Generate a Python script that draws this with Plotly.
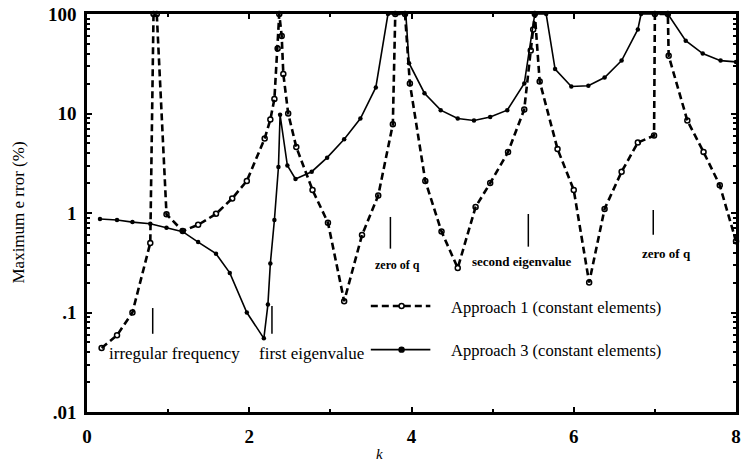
import plotly.graph_objects as go

# ---------------- data ----------------
k_app1 = [0.18, 0.37, 0.56, 0.78, 0.82, 0.86, 0.98, 1.18, 1.37, 1.59, 1.79, 1.97,
          2.19, 2.26, 2.31, 2.35, 2.37, 2.40, 2.42, 2.48, 2.58, 2.78, 2.97, 3.17,
          3.39, 3.59, 3.77, 3.80, 3.92, 3.98, 4.17, 4.37, 4.57, 4.79, 4.97, 5.19,
          5.39, 5.47, 5.50, 5.52, 5.58, 5.80, 6.00, 6.19, 6.38, 6.59, 6.79, 6.99,
          7.00, 7.16, 7.17, 7.40, 7.60, 7.80, 8.00]
err_app1 = [0.044, 0.059, 0.10, 0.50, 100, 100, 0.97, 0.66, 0.76, 0.98, 1.4, 2.1,
            5.6, 8.7, 14, 45, 100, 60, 25, 10, 4.6, 1.7, 0.8, 0.13,
            0.6, 1.5, 7.8, 100, 100, 20, 2.1, 0.65, 0.28, 1.15, 2.0, 4.1,
            11, 43, 70, 100, 21, 4.4, 1.7, 0.20, 1.1, 2.6, 5.1, 6.0,
            100, 100, 38, 8.5, 4.1, 1.9, 0.52]

k_app3 = [0.16, 0.37, 0.56, 0.78, 0.98, 1.18, 1.37, 1.59, 1.76, 1.97, 2.18, 2.23,
          2.26, 2.31, 2.36, 2.38, 2.47, 2.57, 2.77, 2.96, 3.17, 3.37, 3.56, 3.71,
          3.93, 3.97, 4.16, 4.36, 4.57, 4.77, 4.97, 5.18, 5.39, 5.52, 5.66, 5.77,
          5.97, 6.18, 6.38, 6.59, 6.79, 6.83, 7.16, 7.38, 7.59, 7.81, 8.00]
err_app3 = [0.87, 0.85, 0.81, 0.78, 0.71, 0.65, 0.51, 0.39, 0.25, 0.10, 0.055, 0.12,
            0.31, 0.85, 2.9, 9.7, 3.0, 2.2, 2.6, 3.6, 5.5, 8.9, 18.3, 100,
            100, 32, 16, 10.8, 8.9, 8.5, 9.2, 10.8, 20, 100, 100, 28,
            18.7, 19, 23, 34, 70, 100, 100, 54, 40, 34, 33]

series_names = ["Approach 1 (constant elements)", "Approach 3 (constant elements)"]

x_tickvals = [0, 2, 4, 6, 8]
y_tickvals = [0.01, 0.1, 1, 10, 100]
y_ticktext = [".01", ".1", "1", "10", "100"]

# special k positions marked with short vertical lines
mark_labels = ["irregular frequency", "first eigenvalue", "zero of q",
               "second eigenvalue", "zero of q"]
mark_k = [0.81, 2.28, 3.74, 5.44, 6.98]

FONT = "Liberation Serif, Times New Roman, serif"

# plot-area geometry in pixels (for decorations)
L, R, T, B = 87, 4, 10, 52
W, H = 745, 464
PW, PH = W - L - R, H - T - B


def px(xp):
    return (xp - L) / PW


def py(yp):
    return (H - B - yp) / PH


fig = go.Figure()

fig.add_trace(go.Scatter(
    x=k_app1, y=err_app1, mode="lines+markers", name=series_names[0],
    line=dict(color="black", width=2.6, dash="7px,4px"),
    marker=dict(symbol="circle-open", size=5, color="black", line=dict(width=1.5)),
    cliponaxis=False, showlegend=False))

fig.add_trace(go.Scatter(
    x=k_app3, y=err_app3, mode="lines+markers", name=series_names[1],
    line=dict(color="black", width=1.6),
    marker=dict(symbol="circle", size=4.5, color="black"),
    cliponaxis=False, showlegend=False))

shapes = []
annotations = []

# vertical marker ticks and labels (pixel positions)
mark_y = [(307, 333), (305, 333), (215, 247), (212, 245), (208, 233)]
text_pos = [(175, 353, 17, False), (313, 353, 17, False), (400, 264, 12, True),
            (525, 260, 13, True), (671, 252, 13, True)]
for kx, (y0, y1) in zip(mark_k, mark_y):
    shapes.append(dict(type="line", xref="x", yref="paper", x0=kx, x1=kx,
                       y0=py(y1), y1=py(y0), line=dict(color="black", width=1.5)))
for lab, (xp, yp, fs, bold) in zip(mark_labels, text_pos):
    annotations.append(dict(
        text=("<b>%s</b>" % lab) if bold else lab, xref="paper", yref="paper",
        x=px(xp), y=py(yp), showarrow=False, xanchor="center", yanchor="middle",
        font=dict(family=FONT, size=fs, color="black")))

# manual legend
leg = [(305, True), (349, False)]
for name, (yp, dashed) in zip(series_names, leg):
    shapes.append(dict(type="line", xref="paper", yref="paper",
                       x0=px(373), x1=px(433), y0=py(yp), y1=py(yp),
                       line=dict(color="black", width=2.6 if dashed else 1.6,
                                 dash="7px,4px" if dashed else "solid")))
    cx = 404
    r = 2.5
    shapes.append(dict(type="circle", xref="paper", yref="paper",
                       x0=px(cx - r), x1=px(cx + r), y0=py(yp + r), y1=py(yp - r),
                       line=dict(color="black", width=1.5),
                       fillcolor="white" if dashed else "black"))
    annotations.append(dict(
        text=name, xref="paper", yref="paper", x=px(452), y=py(yp + 1),
        showarrow=False, xanchor="left", yanchor="middle",
        font=dict(family=FONT, size=16.5, color="black")))

# axis titles
annotations.append(dict(text="<i>k</i>", xref="paper", yref="paper",
                        x=px(382), y=py(454), showarrow=False,
                        xanchor="center", yanchor="middle",
                        font=dict(family=FONT, size=15, color="black")))
annotations.append(dict(text="Maximum e rror (%)", xref="paper", yref="paper",
                        x=px(17), y=0.5, showarrow=False, textangle=-90,
                        xanchor="center", yanchor="middle",
                        font=dict(family=FONT, size=17, color="black")))

minor_y = [m * 10 ** e for e in (-2, -1, 0, 1) for m in range(2, 10)]

fig.update_layout(
    width=W, height=H,
    margin=dict(l=L, r=R, t=T, b=B),
    paper_bgcolor="white", plot_bgcolor="white",
    font=dict(family=FONT, size=18, color="black"),
    shapes=shapes, annotations=annotations,
    xaxis=dict(range=[0, 8], tickvals=x_tickvals, showgrid=False, zeroline=False,
               showline=True, linecolor="black", linewidth=2.5, mirror="ticks",
               ticks="inside", ticklen=5, tickwidth=1.5, tickcolor="black",
               minor=dict(dtick=1, ticks="inside", ticklen=3, tickcolor="black"),
               tickfont=dict(family=FONT, size=19, weight="bold"),
               ticklabelstandoff=5, ticklabeloverflow="allow"),
    yaxis=dict(type="log", range=[-2, 2], tickvals=y_tickvals, ticktext=y_ticktext,
               showgrid=False, zeroline=False,
               showline=True, linecolor="black", linewidth=2.5, mirror="ticks",
               ticks="inside", ticklen=5, tickwidth=1.5, tickcolor="black",
               minor=dict(tickvals=minor_y, ticks="inside", ticklen=3,
                          tickcolor="black", showgrid=False),
               tickfont=dict(family=FONT, size=19, weight="bold"),
               ticklabelstandoff=4, ticklabeloverflow="allow"),
)

fig.write_html("out.html")
